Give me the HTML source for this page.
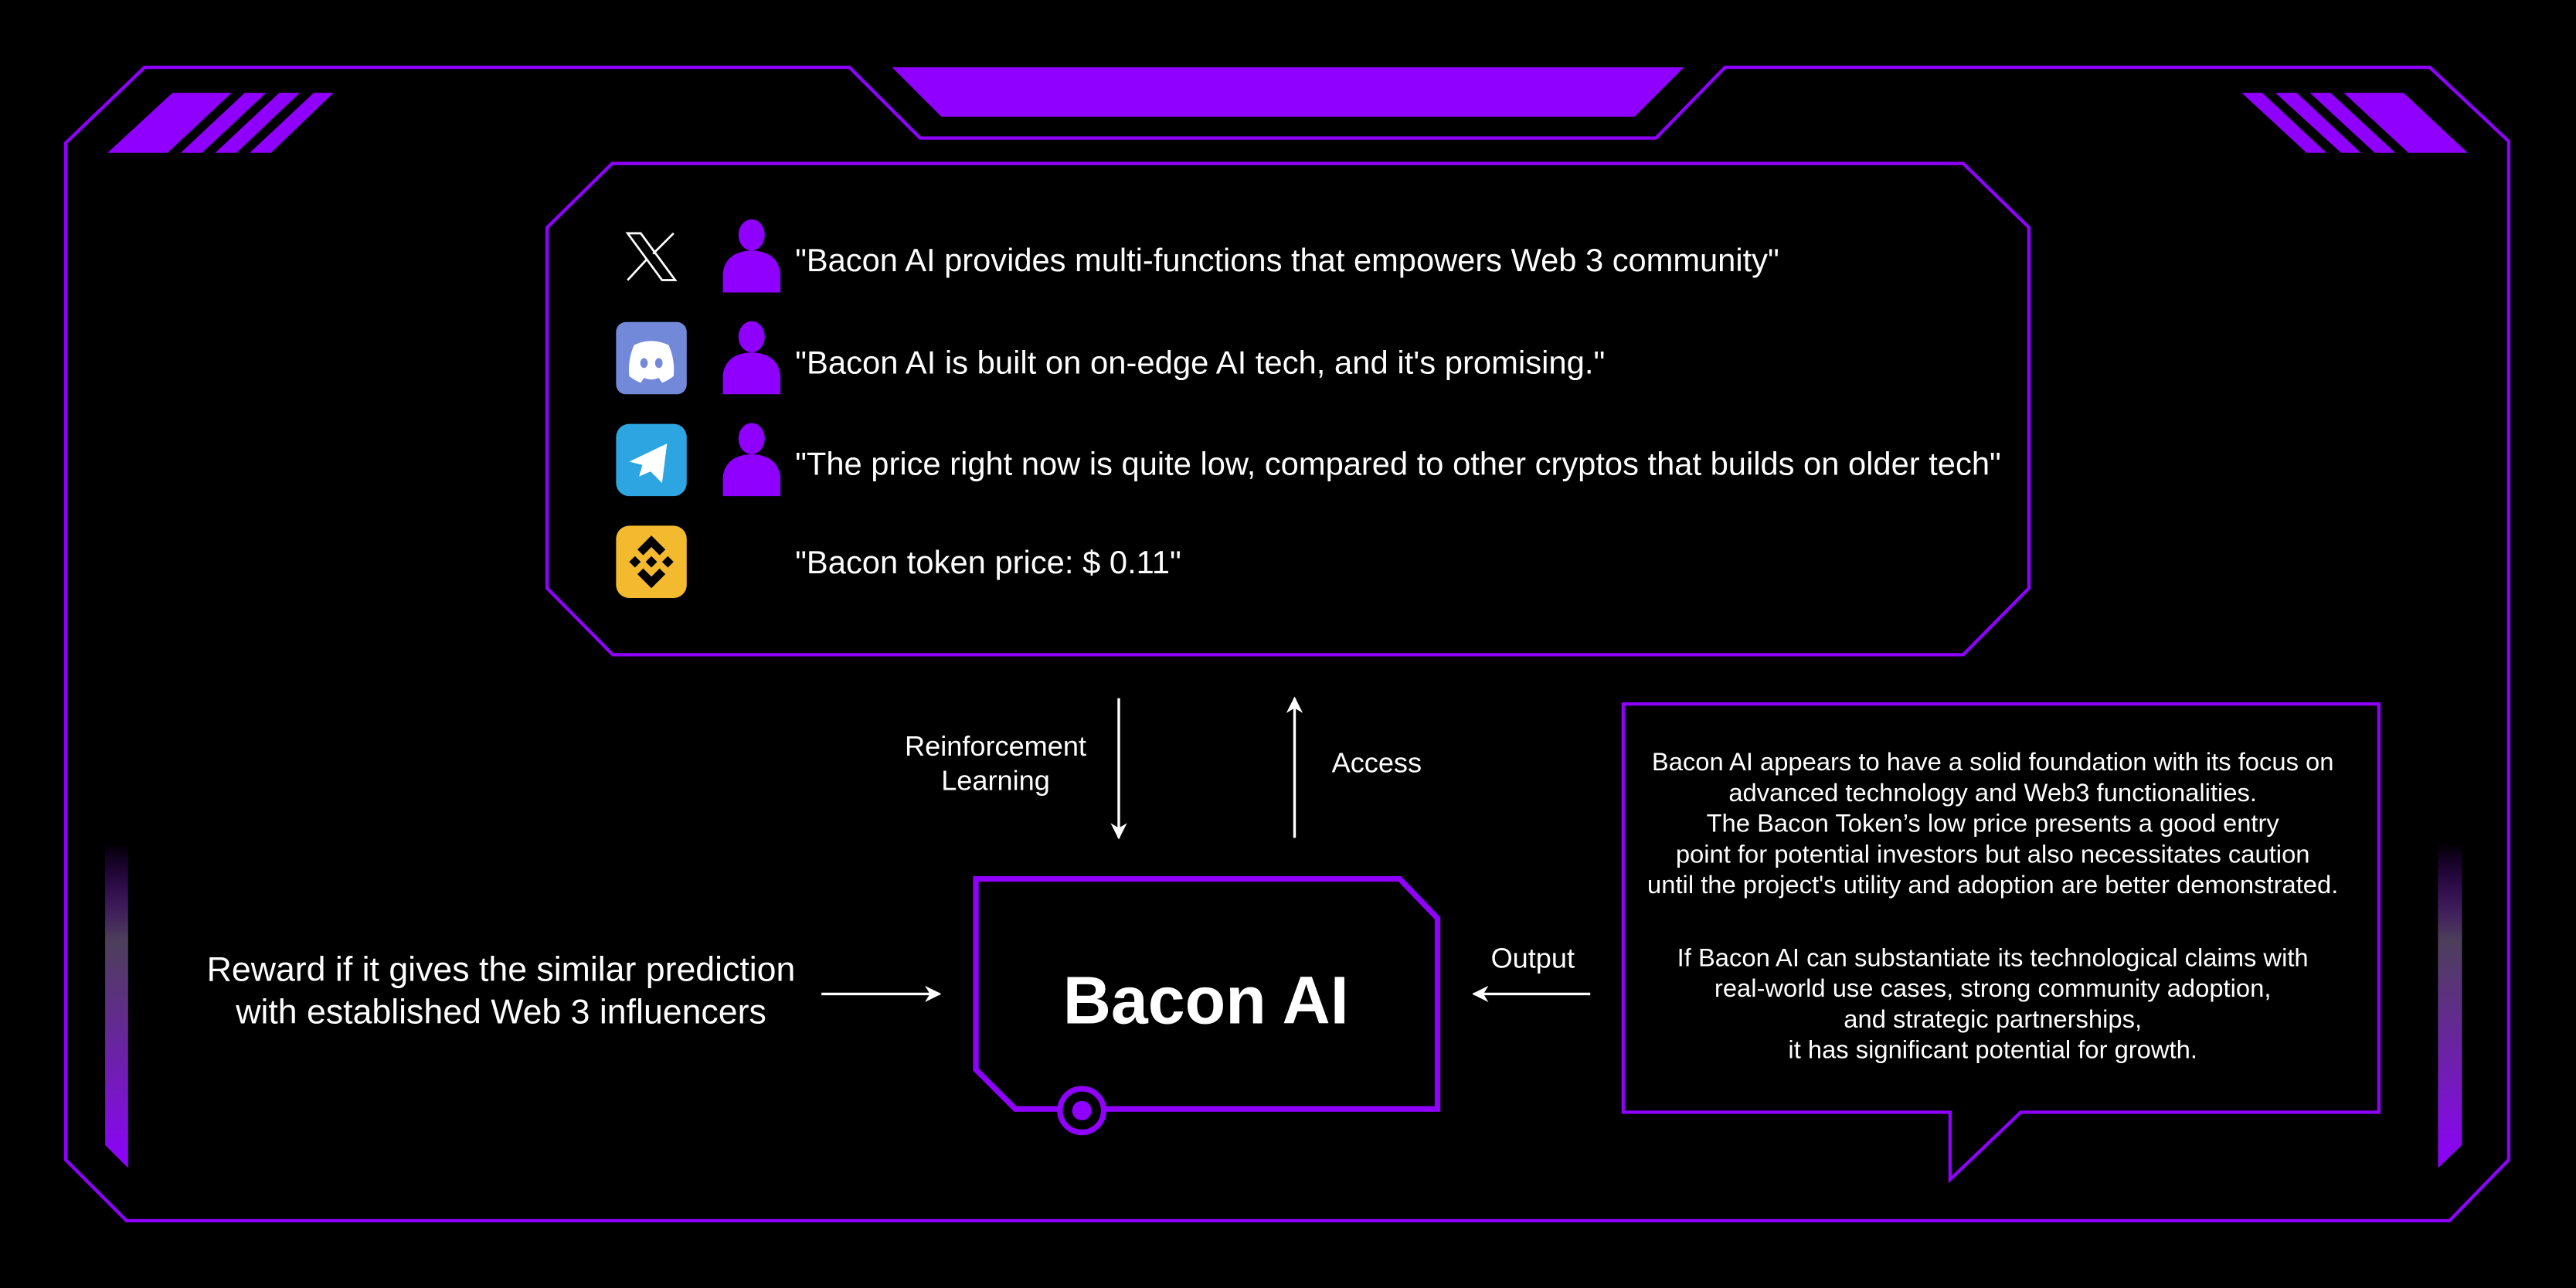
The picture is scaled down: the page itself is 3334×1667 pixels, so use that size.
<!DOCTYPE html>
<html><head><meta charset="utf-8"><style>
html,body{margin:0;padding:0;background:#000;}
svg{display:block;}
text{font-family:"Liberation Sans",Arial,sans-serif;fill:#fff;}
</style></head><body>
<svg width="3334" height="1667" viewBox="0 0 1568 784" preserveAspectRatio="none" xmlns="http://www.w3.org/2000/svg">
<defs>
<linearGradient id="g" x1="0" y1="0" x2="0" y2="1">
<stop offset="0" stop-color="#8f00ff" stop-opacity="0"/>
<stop offset="0.3" stop-color="#5a4a6a" stop-opacity="0.85"/>
<stop offset="1" stop-color="#8f00ff"/>
</linearGradient>
<marker id="ah" markerWidth="10" markerHeight="10" refX="9" refY="5" orient="auto" markerUnits="userSpaceOnUse">
<path d="M0,0 L10,5 L0,10 L3,5 Z" fill="#fff"/>
</marker>
</defs>
<rect width="1568" height="784" fill="#000"/>
<polygon points="40,87 88,41 517,41 560,84 1008,84 1050,41 1479,41 1527,86 1527,706 1491,743 77,743 40,706" fill="none" stroke="#8f00ff" stroke-width="2"/>
<polygon points="543,41 1025,41 995,71 573,71" fill="#8f00ff"/>
<polygon points="105,56.5 141,56.5 102,93 65.5,93" fill="#8f00ff"/>
<polygon points="149,56.5 162,56.5 123,93 110,93" fill="#8f00ff"/>
<polygon points="170,56.5 182.5,56.5 144,93 131,93" fill="#8f00ff"/>
<polygon points="191,56.5 203,56.5 165,93 152,93" fill="#8f00ff"/>
<polygon points="1364.5,56.5 1377,56.5 1416,93 1404,93" fill="#8f00ff"/>
<polygon points="1385,56.5 1398,56.5 1437,93 1425,93" fill="#8f00ff"/>
<polygon points="1406,56.5 1418.6,56.5 1458,93 1445.5,93" fill="#8f00ff"/>
<polygon points="1426.6,56.5 1463,56.5 1502,93 1466,93" fill="#8f00ff"/>
<polygon points="64,513 78,513 78,711 64,697" fill="url(#g)"/>
<polygon points="1484,513 1498.6,513 1498.6,697 1484,711" fill="url(#g)"/>
<polygon points="333,138.5 372.6,99.5 1195,99.5 1235,138.5 1235,358 1195,398.5 373,398.5 333,358" fill="none" stroke="#8f00ff" stroke-width="2"/>
<g stroke="#fff" stroke-width="1.3" fill="none">
<polygon points="382,142 390,142 411,170.5 403,170.5"/>
<line x1="410" y1="142" x2="397.5" y2="154.5"/>
<line x1="382" y1="170.5" x2="394" y2="157.5"/>
</g>
<rect x="375" y="196" width="43" height="44" rx="6" fill="#7289da"/>
<path d="M386,210 Q396,205 407,210 Q411,219 410,229 Q406,232 403,233 L401,230 Q396.5,232 392,230 L390,233 Q387,232 383,229 Q382,219 386,210 Z" fill="#fff"/>
<ellipse cx="392" cy="221" rx="2.3" ry="3" fill="#7289da"/>
<ellipse cx="401" cy="221" rx="2.3" ry="3" fill="#7289da"/>
<rect x="375" y="258" width="43" height="44" rx="8" fill="#2ca5e0"/>
<path d="M383,281 L406,270 L403,294 L396,287 L389,290 L391,283 Z" fill="#fff"/>
<rect x="375" y="320" width="43" height="44" rx="8" fill="#f3ba2f"/>
<g fill="#000">
<polygon points="396.5,326 405,334.5 401.5,338 396.5,333 391.5,338 388,334.5"/>
<polygon points="396.5,358 405,349.5 401.5,346 396.5,351 391.5,346 388,349.5"/>
<polygon points="396.5,338.5 400,342 396.5,345.5 393,342"/>
<polygon points="383,342 386.5,338.5 390,342 386.5,345.5"/>
<polygon points="403,342 406.5,338.5 410,342 406.5,345.5"/>
</g>
<g fill="#8f00ff">
<ellipse cx="457.5" cy="143" rx="8" ry="9.5"/>
<path d="M440,178 L440,166 Q442,153 457.5,152.5 Q473,153 475,166 L475,178 Z"/>
<ellipse cx="457.5" cy="205" rx="8" ry="9.5"/>
<path d="M440,240 L440,228 Q442,215 457.5,214.5 Q473,215 475,228 L475,240 Z"/>
<ellipse cx="457.5" cy="267" rx="8" ry="9.5"/>
<path d="M440,302 L440,290 Q442,277 457.5,276.5 Q473,277 475,290 L475,302 Z"/>
</g>
<g font-size="19.5">
<text x="484" y="165" textLength="599" lengthAdjust="spacingAndGlyphs">"Bacon AI provides multi-functions that empowers Web 3 community"</text>
<text x="484" y="227.5" textLength="493" lengthAdjust="spacingAndGlyphs">"Bacon AI is built on on-edge AI tech, and it's promising."</text>
<text x="484" y="289" textLength="734" lengthAdjust="spacingAndGlyphs">"The price right now is quite low, compared to other cryptos that builds on older tech"</text>
<text x="484" y="349" textLength="235" lengthAdjust="spacingAndGlyphs">"Bacon token price: $ 0.11"</text>
</g>
<line x1="681" y1="425" x2="681" y2="510" stroke="#fff" stroke-width="1.6" marker-end="url(#ah)"/>
<line x1="788" y1="510" x2="788" y2="425" stroke="#fff" stroke-width="1.6" marker-end="url(#ah)"/>
<g font-size="17" text-anchor="middle">
<text x="606" y="460">Reinforcement</text>
<text x="606" y="481">Learning</text>
<text x="838" y="470">Access</text>
<text x="933" y="589">Output</text>
</g>
<polygon points="594,535 852,535 875,559 875,675 618,675 594,651" fill="none" stroke="#8f00ff" stroke-width="3.4"/>
<circle cx="658.5" cy="676" r="13.3" fill="#000" stroke="#8f00ff" stroke-width="3.4"/>
<circle cx="658.5" cy="676" r="5.9" fill="#8f00ff"/>
<text x="647" y="623" font-size="41" font-weight="bold" textLength="174" lengthAdjust="spacingAndGlyphs">Bacon AI</text>
<g font-size="21" text-anchor="middle">
<text x="305" y="597">Reward if it gives the similar prediction</text>
<text x="305" y="623">with established Web 3 influencers</text>
</g>
<line x1="500" y1="605" x2="572" y2="605" stroke="#fff" stroke-width="1.6" marker-end="url(#ah)"/>
<line x1="968" y1="605" x2="897" y2="605" stroke="#fff" stroke-width="1.6" marker-end="url(#ah)"/>
<path d="M1230,677 L1448,677 L1448,428.5 L988,428.5 L988,677 L1187,677 L1187,718 Z" fill="none" stroke="#8f00ff" stroke-width="2"/>
<g font-size="15.4" text-anchor="middle">
<text x="1213" y="469">Bacon AI appears to have a solid foundation with its focus on</text>
<text x="1213" y="487.7">advanced technology and Web3 functionalities.</text>
<text x="1213" y="506.4">The Bacon Token’s low price presents a good entry</text>
<text x="1213" y="525">point for potential investors but also necessitates caution</text>
<text x="1213" y="543.7">until the project's utility and adoption are better demonstrated.</text>
<text x="1213" y="588">If Bacon AI can substantiate its technological claims with</text>
<text x="1213" y="606.7">real-world use cases, strong community adoption,</text>
<text x="1213" y="625.4">and strategic partnerships,</text>
<text x="1213" y="644">it has significant potential for growth.</text>
</g>
</svg>
</body></html>
